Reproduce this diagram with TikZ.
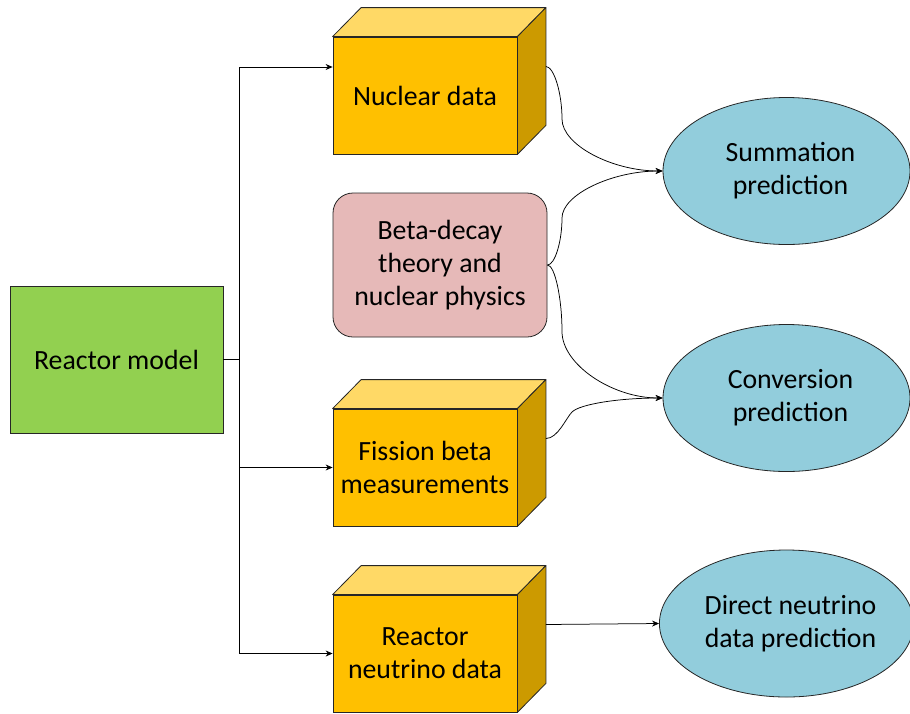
\documentclass[tikz,border=0pt]{standalone}
\usepackage{fontspec}
\setmainfont{Carlito}
\usetikzlibrary{shapes.geometric,arrows.meta,calc}
\definecolor{gold}{HTML}{FFC000}
\definecolor{goldtop}{HTML}{FFD966}
\definecolor{goldside}{HTML}{CC9A00}
\definecolor{leaf}{HTML}{92D050}
\definecolor{rose}{HTML}{E6B9B8}
\definecolor{sky}{HTML}{92CDDC}
\tikzset{
  base/.style={draw=black!85, line width=0.8pt, align=center, inner sep=0pt,
    font=\fontsize{27.8}{33}\selectfont, text=black},
  front/.style={base, fill=gold, minimum width=184pt, minimum height=117pt},
  topface/.style={draw=black!85, line width=0.8pt, fill=goldtop, line join=round},
  sideface/.style={draw=black!85, line width=0.8pt, fill=goldside, line join=round},
  greenbox/.style={base, fill=leaf, minimum width=213pt, minimum height=147pt},
  rosebox/.style={base, fill=rose, rounded corners=20pt, minimum width=214pt, minimum height=144pt},
  oval/.style={base, ellipse, fill=sky, minimum width=247pt, minimum height=147pt},
  arr/.style={black, line width=0.75pt, -{Stealth[length=7pt,width=6pt]}},
  ln/.style={black, line width=0.75pt}
}
\begin{document}
\begin{tikzpicture}[x=1pt,y=-1pt]
\useasboundingbox (0,0) rectangle (910,713);
% Reactor model
\node[greenbox] (rm) at (116.5,359.5) {Reactor model};
% 3D boxes
\node[front] (nd) at (425,95.5) {Nuclear data};
\node[front] (fb) at (425,467.5) {Fission beta\\measurements};
\node[front] (rn) at (425,653.5) {Reactor\\neutrino data};
\foreach \b in {nd,fb,rn}{
  \draw[topface] (\b.north west) -- ++(28.5,-29) -- ($(\b.north east)+(28.5,-29)$) -- (\b.north east) -- cycle;
  \draw[sideface] (\b.north east) -- ++(28.5,-29) -- ($(\b.south east)+(28.5,-29)$) -- (\b.south east) -- cycle;
}
% Beta-decay
\node[rosebox] (bd) at (440,265) {Beta-decay\\theory and\\nuclear physics};
% Ellipses
\node[oval] (sum) at (786.5,171) {\hspace*{8pt}Summation\\\hspace*{8pt}prediction};
\node[oval] (conv) at (786.5,398) {\hspace*{8pt}Conversion\\\hspace*{8pt}prediction};
\node[oval] (dir) at (786.5,623.5) {\hspace*{8pt}Direct neutrino\\\hspace*{8pt}data prediction};
% anchor points
\coordinate (ndL) at ($(nd.west)+(0,-28.5)$);
\coordinate (ndR) at ($(nd.east)+(28.5,-29)$);
\coordinate (fbR) at ($(fb.east)+(28.5,-29)$);
\coordinate (rnR) at ($(rn.east)+(28.5,-29)$);
\coordinate (jx) at (239,359.5);
\coordinate (m1) at (562,119);
\coordinate (m2) at (562,218);
\coordinate (m3) at (562,331.5);
\coordinate (m4) at (572,412);
% elbow connectors
\draw[ln] (rm.east) -- (jx);
\draw[arr] (jx) |- (ndL);
\draw[arr] (jx) |- (fb.west);
\draw[arr] (jx) |- (rn.west);
% curved connectors
\draw[arr] (ndR) .. controls +(8,0) and +(0,-26) .. (m1) .. controls +(0,26) and +(-50.5,0) .. (sum.west);
\draw[arr] (bd.east) .. controls +(7.5,0) and +(0,23.5) .. (m2) .. controls +(0,-23.5) and +(-50.5,0) .. (sum.west);
\draw[arr] (bd.east) .. controls +(7.5,0) and +(0,-33) .. (m3) .. controls +(0,33) and +(-50.5,0) .. (conv.west);
\draw[arr] (fbR) .. controls +(12,0) and +(-6,6) .. (m4) .. controls +(8,-8) and +(-43,0) .. (conv.west);
\draw[arr] (rnR) -- (dir.west);
\end{tikzpicture}
\end{document}
